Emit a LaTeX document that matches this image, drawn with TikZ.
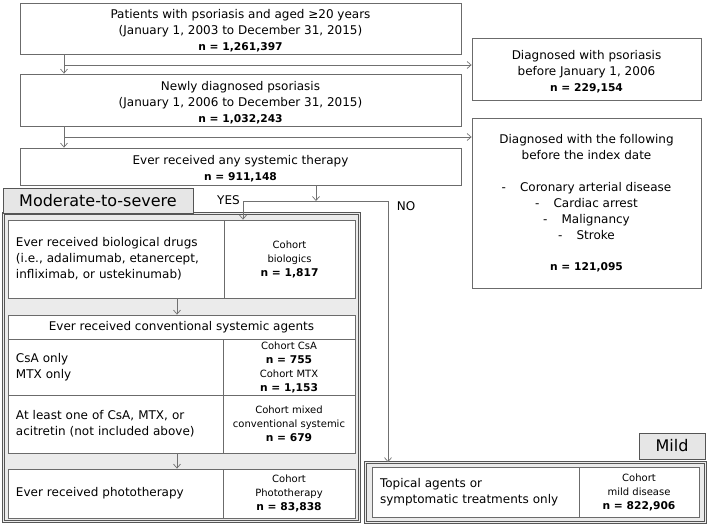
\documentclass[tikz,border=0pt]{standalone}
\usepackage{fontspec}
\setmainfont{DejaVu Sans}
\usetikzlibrary{arrows.meta}
\definecolor{boxc}{HTML}{6B6B6B}
\definecolor{linec}{HTML}{707070}
\definecolor{grpc}{HTML}{555555}
\definecolor{grpfill}{HTML}{EBEBEB}
\definecolor{lblfill}{HTML}{E6E6E6}
\newcommand\bn[1]{{\fontsize{10.7}{16}\selectfont\bfseries #1}}
\begin{document}
\begin{tikzpicture}[x=1pt,y=-1pt,
  box/.style={draw=boxc, line width=0.8pt, fill=white, inner sep=0pt, align=center, font=\fontsize{12}{16}\selectfont},
  ltxt/.style={inner sep=0pt, align=center, font=\fontsize{12}{16}\selectfont, yshift=-2.5pt},
  lcell/.style={box, align=left, inner xsep=8pt, text width=#1},
  coh/.style={box, font=\fontsize{10}{14}\selectfont},
  grp/.style={draw=grpc, line width=0.7pt, double=grpfill, double distance=1.4pt, fill=grpfill, inner sep=0pt},
  lbl/.style={draw=grpc, line width=1pt, fill=lblfill, inner sep=0pt, font=\fontsize{16}{19}\selectfont},
  conn/.style={draw=linec, line width=0.7pt},
  arr/.style={conn, -{Straight Barb[length=4pt,width=7pt]}},
  txt/.style={inner sep=0pt, font=\fontsize{12}{16}\selectfont}]
\useasboundingbox (0,0) rectangle (708,528);

% top chain
\node[box, minimum width=441pt, minimum height=51pt,
  label={[ltxt]center:{Patients with psoriasis and aged ≥20 years\\(January 1, 2003 to December 31, 2015)\\\bn{n = 1,261,397}}}]
  (b1) at (240.5,28.5) {};
\node[box, minimum width=441pt, minimum height=52pt,
  label={[ltxt]center:{Newly diagnosed psoriasis\\(January 1, 2006 to December 31, 2015)\\\bn{n = 1,032,243}}}]
  (b2) at (240.5,100) {};
\node[box, minimum width=441pt, minimum height=37pt,
  label={[ltxt]center:{Ever received any systemic therapy\\\bn{n = 911,148}}}]
  (b3) at (240.5,166.5) {};

% right exclusion boxes
\node[box, minimum width=229pt, minimum height=62pt,
  label={[ltxt]center:{Diagnosed with psoriasis\\before January 1, 2006\\\bn{n = 229,154}}}]
  (ra) at (586.5,69) {};
\node[box, minimum width=229pt, minimum height=170pt] (rb) at (586.5,203)
  {Diagnosed with the following\\before the index date\\[16.5pt]
   -\hspace{14pt}Coronary arterial disease\\
   -\hspace{14pt}Cardiac arrest\\
   -\hspace{14pt}Malignancy\\
   -\hspace{14pt}Stroke\\[15pt]
   \bn{n = 121,095}};

% moderate-to-severe group
\node[grp, minimum width=356pt, minimum height=308pt] (mod) at (181.5,367.5) {};
\node[lbl, minimum width=190pt, minimum height=25pt] (modl) at (98,200.5) {Moderate-to-severe};

\node[lcell=200pt, minimum height=78pt] (bioL) at (116,259)
  {Ever received biological drugs\\(i.e., adalimumab, etanercept,\\infliximab, or ustekinumab)};
\node[coh, minimum width=131pt, minimum height=78pt] (bioR) at (289.5,259)
  {Cohort\\biologics\\\bn{n = 1,817}};

\node[box, minimum width=347pt, minimum height=24pt] (convH) at (181.5,327)
  {Ever received conventional systemic agents};
\node[lcell=199pt, minimum height=56pt] (csaL) at (115.5,367)
  {CsA only\\MTX only};
\node[coh, minimum width=132pt, minimum height=56pt] (csaR) at (289,367)
  {Cohort CsA\\\bn{n = 755}\\Cohort MTX\\\bn{n = 1,153}};
\node[lcell=199pt, minimum height=58pt] (mixL) at (115.5,424)
  {At least one of CsA, MTX, or\\acitretin (not included above)};
\node[coh, minimum width=132pt, minimum height=58pt] (mixR) at (289,424)
  {Cohort mixed\\conventional systemic\\\bn{n = 679}};

\node[lcell=199pt, minimum height=49pt] (phL) at (115.5,493.5)
  {Ever received phototherapy};
\node[coh, minimum width=132pt, minimum height=49pt] (phR) at (289,493.5)
  {Cohort\\Phototherapy\\\bn{n = 83,838}};

% mild group
\node[grp, minimum width=340pt, minimum height=60pt] (mildO) at (535.5,492.5) {};
\node[lbl, minimum width=66pt, minimum height=26pt] (mildl) at (672,446) {Mild};
\node[lcell=191pt, minimum height=50pt] (mildL) at (475.5,492)
  {Topical agents or\\symptomatic treatments only};
\node[coh, minimum width=120pt, minimum height=50pt] (mildR) at (639,492)
  {Cohort\\mild disease\\\bn{n = 822,906}};

% connectors
\coordinate (c1) at (64,65);
\coordinate (c2) at (64,137);
\draw[arr] (b1.south -| c1) -- (b2.north -| c1);
\draw[arr] (c1) -- (ra.west |- c1);
\draw[arr] (b2.south -| c2) -- (b3.north -| c2);
\draw[arr] (c2) -- (rb.west |- c2);

\coordinate (c3) at (316,201);
\coordinate (yesc) at (243,201);
\coordinate (noc) at (388,201);
\draw[arr] (b3.south -| c3) -- (c3);
\draw[conn] (yesc) -- (noc);
\draw[arr] (yesc) -- (bioR.north -| yesc);
\draw[arr] (noc) -- (mildO.north -| noc);
\node[txt] (yes) at (228.5,200) {YES};
\node[txt] (no) at (406,206) {NO};

\coordinate (ax) at (177,306);
\draw[arr] (bioL.south -| ax) -- (convH.north -| ax);
\draw[arr] (mixL.south -| ax) -- (phL.north -| ax);
\end{tikzpicture}
\end{document}
